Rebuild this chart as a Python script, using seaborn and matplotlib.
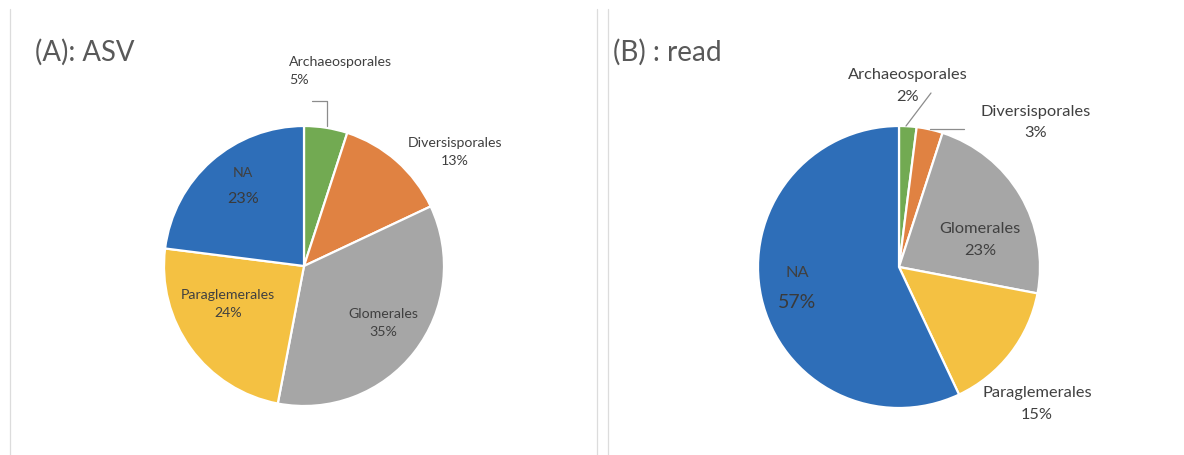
import matplotlib
matplotlib.use("Agg")
import matplotlib.pyplot as plt
import seaborn as sns
from matplotlib.lines import Line2D

# ---- data ----
categories = ["Archaeosporales", "Diversisporales", "Glomerales", "Paraglemerales", "NA"]
asv_values = [5, 13, 35, 24, 23]
read_values = [2, 3, 23, 15, 57]
titles = ["(A): ASV", "(B) : read"]

sns.set_theme(style="white")
plt.rcParams['font.family'] = ['Lato', 'DejaVu Sans']

palette = sns.color_palette(["#72AA52", "#E08242", "#A6A6A6", "#F4C142", "#2E6EB8"])
TXT = "#404040"

W, H = 1184, 456
fig = plt.figure(figsize=(W / 100, H / 100), dpi=100)
fig.patch.set_facecolor("white")


def make_axes(x0, x1):
    ax = fig.add_axes([x0 / W, 0, (x1 - x0) / W, 1])
    return ax


def draw_pie(ax, values, cx, cy, r):
    # y axis inverted -> counterclock=True appears clockwise on screen; -90 is screen top
    wedges, _ = ax.pie(values, colors=palette, startangle=-90, counterclock=True,
                       center=(cx, cy), radius=r, frame=True,
                       wedgeprops=dict(edgecolor="white", linewidth=1.6))
    return wedges


# ---- panel A ----
axA = make_axes(0, 597)
draw_pie(axA, asv_values, 304, 267, 140)
axA.set_xlim(0, 597); axA.set_ylim(H, 0); axA.axis("off")
axA.text(35, 52, titles[0], fontsize=19.8, color="#595959", va="center", ha="left")
fsA = 10.2
labA = {
    "Archaeosporales": (289, 62, 80, "left"),
    "Diversisporales": (455, 143, 161, "center"),
    "Glomerales": (383, 314, 332, "center"),
    "Paraglemerales": (228, 295, 313, "center"),
}
for name, val in zip(categories, asv_values):
    if name in labA:
        x, y1, y2, ha = labA[name]
        axA.text(x, y1, name, fontsize=fsA, color=TXT, ha=ha, va="center")
        axA.text(x, y2, f"{val}%", fontsize=fsA, color=TXT, ha=ha, va="center")
axA.text(243, 173, categories[4], fontsize=fsA, color=TXT, ha="center", va="center")
axA.text(243, 199, f"{asv_values[4]}%", fontsize=11.6, color="#3a3a3a", ha="center", va="center")
axA.plot([312, 327, 327], [102, 102, 127], color="#8c8c8c", lw=0.9)

# ---- panel B ----
axB = make_axes(597, W)
draw_pie(axB, read_values, 899, 268, 141)
axB.set_xlim(597, W); axB.set_ylim(H, 0); axB.axis("off")
axB.text(613, 52, titles[1], fontsize=20.2, color="#595959", va="center", ha="left")
fsB = 11.8
labB = {
    "Archaeosporales": (908, 75, 97),
    "Diversisporales": (1036, 112, 133),
    "Glomerales": (980, 229, 251),
    "Paraglemerales": (1037, 393, 415),
}
for name, val in zip(categories, read_values):
    if name in labB:
        x, y1, y2 = labB[name]
        axB.text(x, y1, name, fontsize=fsB, color=TXT, ha="center", va="center")
        axB.text(x, y2, f"{val}%", fontsize=fsB, color=TXT, ha="center", va="center")
axB.text(797, 273, categories[4], fontsize=fsB, color=TXT, ha="center", va="center")
axB.text(797, 303, f"{read_values[4]}%", fontsize=14, color="#3a3a3a", ha="center", va="center")
axB.plot([931, 906], [94, 127], color="#8c8c8c", lw=0.9)
axB.plot([930, 964], [130, 130], color="#8c8c8c", lw=0.9)

# ---- faint panel borders ----
for xp in (10, 597, 608):
    fig.add_artist(Line2D([xp / W, xp / W], [0, 1 - 10 / H], color="#dcdcdc", lw=0.9))

fig.savefig("out.png", dpi=100, facecolor="white")
